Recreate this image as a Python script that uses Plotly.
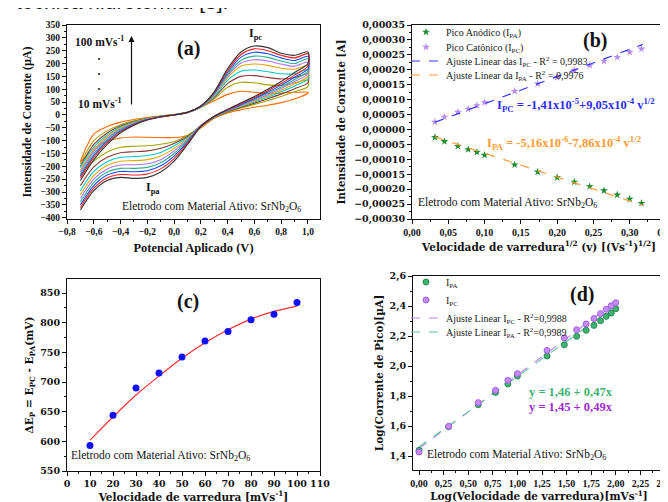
import plotly.graph_objects as go

W, H = 668, 502

# ---------------- panel (a) : cyclic voltammograms ----------------
scan_rates = [10, 20, 30, 40, 50, 60, 70, 80, 90, 100]
cv_colors = ["#ff6a00", "#a3a300", "#8b3a3a", "#00cccc", "#e0a800",
             "#b070ff", "#2eb08a", "#1a4dff", "#ff2020", "#333333"]
E_fwd = [-0.70, -0.60, -0.50, -0.40, -0.30, -0.20, -0.10, 0.00, 0.10,
         0.20, 0.30, 0.40, 0.50, 0.60, 0.70, 0.80, 0.90, 1.00]
E_rev = [1.00, 0.90, 0.80, 0.70, 0.60, 0.50, 0.40, 0.30, 0.20, 0.10,
         0.00, -0.10, -0.20, -0.30, -0.40, -0.50, -0.60, -0.70]

fwd_10 = [-180, -75, -45, -28, -18, -10, -4, 2, 10, 30, 55, 80, 92, 88, 83, 85, 88, 88]
fwd_20 = [-190, -100, -62, -38, -23, -12, -4, 1, 10, 30, 63, 108, 127, 125, 117, 115, 125, 135]
fwd_30 = [-200, -115, -70, -43, -26, -13, -5, 1, 10, 30, 68, 122, 150, 153, 146, 140, 145, 160]
fwd_40 = [-205, -125, -78, -47, -28, -14, -5, 1, 10, 30, 72, 135, 170, 175, 168, 160, 160, 175]
fwd_50 = [-215, -135, -84, -51, -30, -15, -6, 1, 10, 31, 76, 145, 190, 198, 193, 182, 178, 192]
fwd_60 = [-222, -142, -90, -55, -32, -16, -6, 0, 10, 32, 79, 152, 202, 215, 210, 198, 190, 205]
fwd_70 = [-230, -150, -96, -58, -34, -17, -7, 0, 10, 33, 82, 158, 213, 229, 224, 210, 200, 218]
fwd_80 = [-238, -158, -102, -62, -36, -18, -7, 0, 10, 34, 85, 165, 225, 244, 238, 222, 212, 228]
fwd_90 = [-245, -165, -108, -66, -38, -19, -8, 0, 10, 35, 88, 172, 235, 257, 250, 232, 222, 238]
fwd_100 = [-255, -175, -115, -70, -40, -20, -8, 0, 10, 35, 90, 180, 245, 268, 262, 240, 232, 245]

rev_10 = [85, 62, 48, 38, 30, 20, 8, -13, -50, -80, -88, -88, -87, -86, -90, -102, -130, -185]
rev_20 = [110, 90, 72, 56, 41, 27, 11, -11, -45, -80, -104, -114, -120, -122, -126, -144, -180, -235]
rev_30 = [125, 102, 81, 63, 46, 30, 13, -10, -43, -84, -111, -130, -140, -143, -147, -165, -202, -275]
rev_40 = [140, 113, 90, 69, 50, 33, 15, -9, -42, -88, -120, -146, -158, -162, -165, -182, -220, -295]
rev_50 = [150, 121, 96, 74, 53, 35, 16, -8, -41, -92, -130, -160, -174, -178, -180, -196, -236, -310]
rev_60 = [160, 130, 103, 79, 57, 37, 17, -7, -41, -96, -140, -174, -190, -194, -195, -210, -250, -325]
rev_70 = [170, 138, 109, 84, 60, 39, 18, -6, -42, -100, -150, -186, -204, -208, -208, -222, -263, -338]
rev_80 = [180, 147, 116, 89, 64, 41, 19, -6, -43, -105, -160, -198, -217, -221, -220, -234, -275, -350]
rev_90 = [190, 155, 122, 94, 68, 44, 20, -5, -44, -110, -170, -210, -230, -234, -232, -245, -285, -360]
rev_100 = [200, 165, 130, 100, 72, 47, 22, -5, -45, -115, -180, -222, -243, -247, -243, -255, -295, -370]

cv_fwd = [fwd_10, fwd_20, fwd_30, fwd_40, fwd_50, fwd_60, fwd_70, fwd_80, fwd_90, fwd_100]
cv_rev = [rev_10, rev_20, rev_30, rev_40, rev_50, rev_60, rev_70, rev_80, rev_90, rev_100]

# ---------------- panel (b) : peak current vs sqrt(v) ----------------
sqrt_v = [0.0316, 0.0447, 0.0632, 0.0775, 0.0894, 0.1000, 0.1414, 0.1732,
          0.2000, 0.2236, 0.2449, 0.2646, 0.2828, 0.3000, 0.3162]
ipa_b = [-2.66e-5, -4.0e-5, -5.6e-5, -6.7e-5, -7.6e-5, -8.6e-5, -1.18e-4, -1.42e-4,
         -1.61e-4, -1.76e-4, -1.91e-4, -2.05e-4, -2.19e-4, -2.33e-4, -2.47e-4]
ipc_b = [2.5e-5, 4.2e-5, 5.8e-5, 6.8e-5, 8.0e-5, 9.1e-5, 1.28e-4, 1.53e-4,
         1.75e-4, 1.98e-4, 2.15e-4, 2.29e-4, 2.42e-4, 2.59e-4, 2.70e-4]
fit_b_x = [0.0316, 0.3180]
fit_b_pc = [2.4e-5, 2.85e-4]
fit_b_pa = [-2.5e-5, -2.54e-4]

# ---------------- panel (c) : delta Ep vs v ----------------
rate_c = [10, 20, 30, 40, 50, 60, 70, 80, 90, 100]
dEp_c = [593, 644, 690, 715, 742, 769, 785, 805, 814, 834]
fit_c = [602, 641, 678, 710, 740, 766, 788, 806, 819, 828]

# ---------------- panel (d) : log Ip vs log v ----------------
log_v = [0.000, 0.301, 0.602, 0.778, 0.903, 1.000, 1.301, 1.477,
         1.602, 1.699, 1.778, 1.845, 1.903, 1.954, 2.000]
log_ipa = [1.438, 1.595, 1.742, 1.824, 1.880, 1.933, 2.067, 2.142,
           2.198, 2.238, 2.271, 2.302, 2.331, 2.353, 2.382]
log_ipc = [1.427, 1.598, 1.756, 1.838, 1.904, 1.949, 2.104, 2.187,
           2.242, 2.280, 2.316, 2.349, 2.378, 2.402, 2.422]
fit_d_x = [0.0, 2.0]
fit_d_pc = [1.45, 2.43]
fit_d_pa = [1.46, 2.40]

# ====================================================================
SERIF = "Liberation Serif"
WIDE = "DejaVu Serif"


def px(x):
    return x / W


def py(y):
    return 1 - y / H


fig = go.Figure()

for rate, col, f, r in zip(scan_rates, cv_colors, cv_fwd, cv_rev):
    fig.add_trace(go.Scatter(x=E_fwd + E_rev, y=f + r, mode="lines",
                             line=dict(color=col, width=1.1, shape="spline", smoothing=0.8),
                             name=f"{rate} mV/s", showlegend=False,
                             xaxis="x", yaxis="y"))

# (b)
fig.add_trace(go.Scatter(x=sqrt_v, y=ipa_b, mode="markers", xaxis="x2", yaxis="y2",
                         marker=dict(symbol="star", size=6, color="#1e8c2e"),
                         name="Pico Anódico (I<sub>PA</sub>)", legend="legend"))
fig.add_trace(go.Scatter(x=sqrt_v, y=ipc_b, mode="markers", xaxis="x2", yaxis="y2",
                         marker=dict(symbol="star", size=6, color="#b98cf0"),
                         name="Pico Catônico (I<sub>PC</sub>)", legend="legend2"))
fig.add_trace(go.Scatter(x=fit_b_x, y=fit_b_pc, mode="lines", xaxis="x2", yaxis="y2",
                         line=dict(color="#3333ff", width=1.2, dash="dash"),
                         name="Ajuste Linear das I<sub>PC</sub> - R<sup>2</sup> = 0,9983", legend="legend3"))
fig.add_trace(go.Scatter(x=fit_b_x, y=fit_b_pa, mode="lines", xaxis="x2", yaxis="y2",
                         line=dict(color="#ff9a33", width=1.2, dash="dash"),
                         name="Ajuste Linear da I<sub>PA</sub> - R<sup>2</sup> = 0,9976", legend="legend4"))

# (c)
fig.add_trace(go.Scatter(x=rate_c, y=fit_c, mode="lines", xaxis="x3", yaxis="y3",
                         line=dict(color="#ff3030", width=1.2, shape="spline"), showlegend=False))
fig.add_trace(go.Scatter(x=rate_c, y=dEp_c, mode="markers", xaxis="x3", yaxis="y3",
                         marker=dict(symbol="circle", size=7, color="#1010ff"), showlegend=False))

# (d)
fig.add_trace(go.Scatter(x=fit_d_x, y=fit_d_pc, mode="lines", xaxis="x4", yaxis="y4",
                         line=dict(color="#c080f0", width=1.1, dash="dash"),
                         name="Ajuste Linear I<sub>PC</sub> - R<sup>2</sup>=0,9988", legend="legend7"))
fig.add_trace(go.Scatter(x=fit_d_x, y=fit_d_pa, mode="lines", xaxis="x4", yaxis="y4",
                         line=dict(color="#5cc49a", width=1.1, dash="dash"),
                         name="Ajuste Linear I<sub>PA</sub> - R<sup>2</sup>=0,9989", legend="legend8"))
fig.add_trace(go.Scatter(x=log_v, y=log_ipa, mode="markers", xaxis="x4", yaxis="y4",
                         marker=dict(symbol="circle", size=6, color="#3cb371",
                                     line=dict(color="#2a8a55", width=1)),
                         name="I<sub>PA</sub>", legend="legend5"))
fig.add_trace(go.Scatter(x=log_v, y=log_ipc, mode="markers", xaxis="x4", yaxis="y4",
                         marker=dict(symbol="circle", size=6, color="#c58af5",
                                     line=dict(color="#a060e0", width=1)),
                         name="I<sub>PC</sub>", legend="legend6"))


def axis(domain, anchor, rng, dtick, mdtick, fmt, fam, size, title, tfam, tsize, standoff):
    return dict(domain=domain, anchor=anchor, range=rng, dtick=dtick, tickformat=fmt,
                showgrid=False, zeroline=False, showline=True, linecolor="#111", linewidth=1,
                mirror=True, ticks="outside", ticklen=4, tickwidth=1, tickcolor="#111",
                tickangle=0, automargin=False, ticklabeloverflow="allow",
                tickfont=dict(family=fam, size=size, color="#111", weight="bold"),
                minor=dict(ticks="outside", ticklen=2, dtick=mdtick, tickcolor="#111"),
                title=dict(text=title, font=dict(family=tfam, size=tsize, color="#111", weight="bold"),
                           standoff=standoff))


dax = [px(59), px(312)]
dbx = [px(404), px(658)]
ddx = [px(405), px(657)]
dtop = [py(211), py(17)]
dcy = [py(463), py(271)]
ddy = [py(462), py(268)]

layout = dict(
    width=W, height=H, margin=dict(l=0, r=0, t=0, b=0),
    paper_bgcolor="white", plot_bgcolor="white", separators=",.",
    xaxis=axis(dax, "y", [-0.8, 1.09], 0.2, 0.1, ".1f", SERIF, 9.5,
               "Potencial Aplicado (V)", SERIF, 12.5, 6),
    yaxis=axis(dtop, "x", [-405, 350], 50, 25, "d", SERIF, 9.5,
               "Intensidade de Corrente (µA)", SERIF, 12, 6),
    xaxis2=axis(dbx, "y2", [0, 0.35], 0.05, 0.025, ".2f", SERIF, 10,
                "Velocidade de varredura<sup>1/2</sup> (v) [(Vs<sup>-1</sup>)<sup>1/2</sup>]", WIDE, 10.5, 6),
    yaxis2=axis(dtop, "x2", [-0.0003, 0.00035], 0.00005, 0.000025, ".5f", WIDE, 9.5,
                "Intensidade de Corrente [A]", WIDE, 10.5, 6),
    xaxis3=axis(dax, "y3", [0, 110], 10, 5, "d", WIDE, 9.5,
                "Velocidade de varredura [mVs<sup>-1</sup>]", WIDE, 10.5, 2),
    yaxis3=axis(dcy, "x3", [550, 873.6], 50, 25, "d", WIDE, 9.5,
                "ΔE<sub>P</sub> = E<sub>PC</sub> - E<sub>PA</sub>(mV)", WIDE, 10.5, 4),
    xaxis4=axis(ddx, "y4", [-0.061, 2.5], 0.25, 0.125, ".2f", SERIF, 10,
                "Log(Velocidade de varredura)[mVs<sup>-1</sup>]", WIDE, 10.5, 2),
    yaxis4=axis(ddy, "x4", [1.307, 2.6], 0.2, 0.1, ".1f", WIDE, 9.5,
                "Log(Corrente de Pico)[µA]", WIDE, 10.5, 3),
)


def leg(y):
    return dict(x=px(398), y=py(y), xanchor="left", yanchor="middle",
                bgcolor="rgba(0,0,0,0)", borderwidth=0, itemwidth=30,
                font=dict(family=SERIF, size=10, color="#222"))


layout["legend"] = leg(24)
layout["legend2"] = leg(39)
layout["legend3"] = leg(53)
layout["legend4"] = leg(67)
layout["legend5"] = leg(274)
layout["legend6"] = leg(292)
layout["legend7"] = leg(310)
layout["legend8"] = leg(324)

fig.update_layout(**layout)


def ann(text, x, y, size=12, color="#111", bold=False, fam=SERIF, xanchor="center"):
    fig.add_annotation(text=text, x=px(x), y=py(y), xref="paper", yref="paper",
                       xanchor=xanchor, yanchor="middle", showarrow=False,
                       font=dict(family=fam, size=size, color=color,
                                 weight="bold" if bold else "normal"))


ann("técnica hidrotermal [8].", 6, -6.5, size=21, fam="Liberation Sans", xanchor="left")

ann("(a)", 180, 40, 20, bold=True)
ann("(b)", 587, 33, 20, bold=True)
ann("(c)", 180, 293, 20, bold=True)
ann("(d)", 574, 286, 20, bold=True)

ann("I<sub>pc</sub>", 247, 26, 12, bold=True)
ann("I<sub>pa</sub>", 145, 180, 12, bold=True)
ann("100 mVs<sup>-1</sup>", 91, 33, 11.5, bold=True)
ann("10 mVs<sup>-1</sup>", 91, 95, 11.5, bold=True)
for yy in (51, 66, 81):
    ann("·", 91, yy, 12, bold=True)
fig.add_annotation(x=px(123.5), y=py(28), xref="paper", yref="paper", ax=0, ay=70,
                   axref="pixel", ayref="pixel", text="", showarrow=True,
                   arrowhead=2, arrowsize=1, arrowwidth=1.2, arrowcolor="#111")

elet = "Eletrodo com Material Ativo: SrNb<sub>2</sub>O<sub>6</sub>"
ann(elet, 112, 199, 11.5, xanchor="left")
ann(elet, 408, 195, 11.5, xanchor="left")
ann(elet, 61, 448, 11.5, xanchor="left")
ann(elet, 417, 447, 11.5, xanchor="left")

ann("I<sub>PC</sub> = -1,41x10<sup>-5</sup>+9,05x10<sup>-4</sup> v<sup>1/2</sup>",
    487, 97, 12.5, color="#2b2bff", bold=True, xanchor="left")
ann("I<sub>PA</sub> = -5,16x10<sup>-6</sup>-7,86x10<sup>-4</sup> v<sup>1/2</sup>",
    477, 135, 12.5, color="#ff9a33", bold=True, xanchor="left")
ann("y = 1,46 + 0,47x", 519, 384, 12.5, color="#3cb371", bold=True, xanchor="left")
ann("y = 1,45 + 0,49x", 519, 399, 12.5, color="#a02ad0", bold=True, xanchor="left")

fig.write_html("out.html")
